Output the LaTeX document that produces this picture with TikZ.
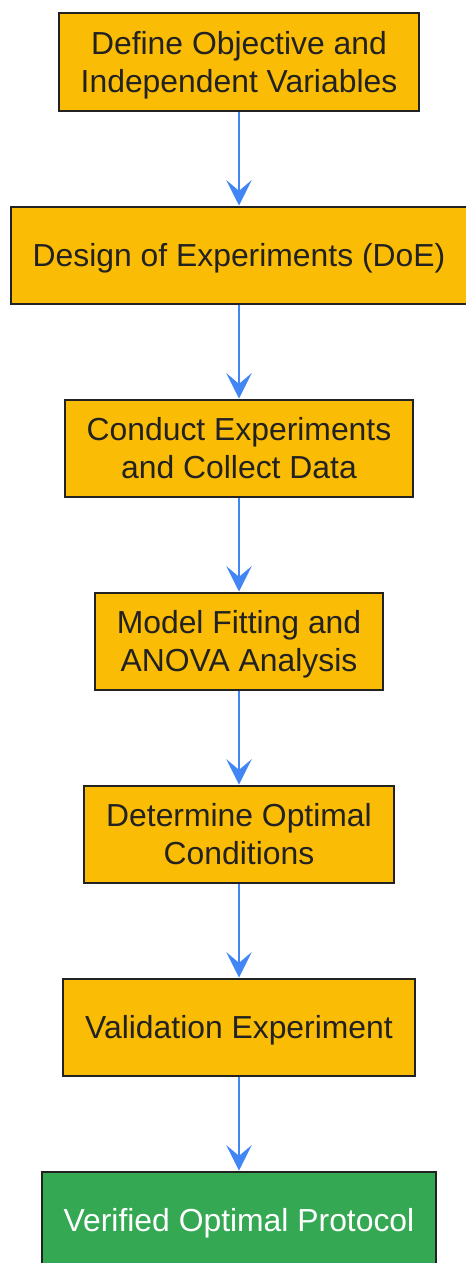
\documentclass[tikz,border=0pt]{standalone}
\usepackage{fontspec}
\setmainfont{Liberation Sans}
\usetikzlibrary{arrows.meta}
\definecolor{stepfill}{HTML}{FBBC05}
\definecolor{donefill}{HTML}{34A853}
\definecolor{flowblue}{HTML}{4285F4}
\definecolor{inkgrey}{HTML}{222222}

\begin{document}
\begin{tikzpicture}[
    x=0.75pt, y=-0.75pt,
    every node/.style={rectangle, draw=inkgrey, line width=1.5pt, align=center,
                       font=\fontsize{23.9}{28.5}\selectfont, text=inkgrey,
                       inner xsep=16.5pt, minimum height=72.75pt,
                       text height=22pt, text depth=5pt},
    twoline/.style={text height=50.5pt},
    stepbox/.style={fill=stepfill},
    endbox/.style={fill=donefill, text=white},
    feed/.style={draw=flowblue, line width=1.5pt,
                 {Stealth[length=19pt, width=19pt, inset=8pt]}-},
]
  \useasboundingbox (0,0) rectangle (465,1263);

  \node [stepbox, twoline]  (obj)  at (239,  62)  {Define Objective and\\Independent Variables};
  \node [stepbox]           (doe)  at (239, 255)  {Design of Experiments (DoE)}
                                                    edge [feed]  (obj);
  \node [stepbox, twoline]  (run)  at (239, 448)  {Conduct Experiments\\and Collect Data}
                                                    edge [feed]  (doe);
  \node [stepbox, twoline]  (fit)  at (239, 641)  {Model Fitting and\\ANOVA Analysis}
                                                    edge [feed]  (run);
  \node [stepbox, twoline]  (opt)  at (239, 834)  {Determine Optimal\\Conditions}
                                                    edge [feed]  (fit);
  \node [stepbox]           (val)  at (239,1027)  {Validation Experiment}
                                                    edge [feed]  (opt);
  \node [endbox]            (done) at (239,1220)  {Verified Optimal Protocol}
                                                    edge [feed]  (val);
\end{tikzpicture}
\end{document}
